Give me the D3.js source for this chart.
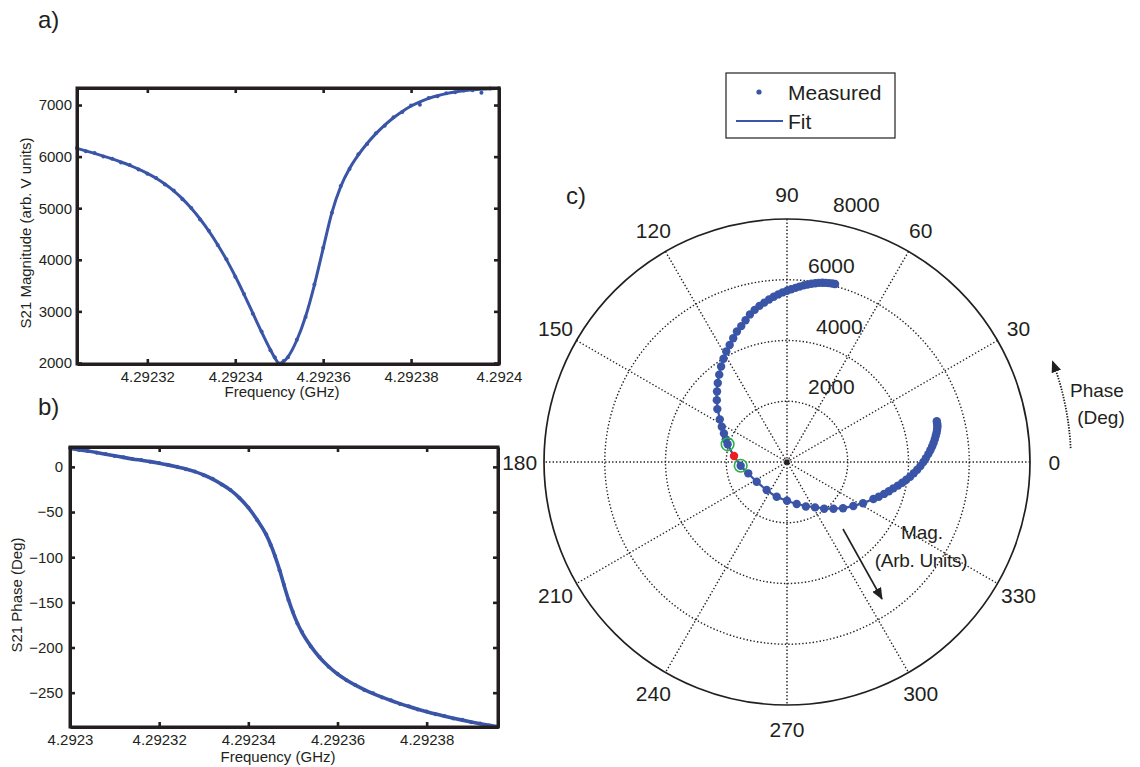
<!DOCTYPE html>
<html>
<head>
<meta charset="utf-8">
<script src="https://cdn.jsdelivr.net/npm/d3@7"></script>
<style>
  html, body { margin: 0; padding: 0; background: #fff; }
  svg { display: block; font-family: "Liberation Sans", Arial, sans-serif; }
  text { fill: #231f20; }
</style>
</head>
<body>
<svg id="chart" width="1140" height="767"></svg>
<script>
// ---------------- DATA ----------------
// Panel a: S21 magnitude vs frequency (GHz)
const freqA = [4.292304,4.292306,4.292308,4.292310,4.292312,4.292314,4.292316,4.292318,4.292320,4.292322,
  4.292324,4.292326,4.292328,4.292330,4.292332,4.292334,4.292336,4.292338,4.292340,4.292342,
  4.292344,4.292346,4.292348,4.292349,4.292350,4.292351,4.292352,4.292354,4.292356,4.292358,
  4.292360,4.292362,4.292364,4.292366,4.292368,4.292370,4.292372,4.292374,4.292376,4.292378,
  4.292380,4.292382,4.292384,4.292386,4.292388,4.292390,4.292392,4.292394,4.292396,4.292398,4.292400];
const fitA = [6160,6112,6062,6010,5955,5895,5830,5757,5675,5580,
  5468,5336,5180,4998,4790,4555,4293,4003,3680,3330,
  2965,2600,2255,2100,1995,2030,2120,2440,2900,3510,
  4220,4920,5420,5770,6035,6255,6445,6610,6753,6875,
  6980,7062,7128,7180,7221,7252,7276,7294,7307,7316,7322];
const measA = [6165,6105,6068,6003,5960,5888,5836,5750,5668,5586,
  5460,5343,5172,5005,4782,4562,4285,4012,3672,3338,
  2955,2610,2245,2110,1985,2040,2112,2452,2890,3522,
  4235,4910,5432,5760,6045,6245,6455,6598,6765,6866,
  6990,7005,7138,7172,7230,7246,7282,7288,7240,7322,7326];
const xTicksA = [4.29232,4.29234,4.29236,4.29238,4.2924];
const yTicksA = [2000,3000,4000,5000,6000,7000];

// Panel b: S21 phase vs frequency (GHz)
const freqB = [4.292300,4.292302,4.292304,4.292306,4.292308,4.292310,4.292312,4.292314,4.292316,4.292318,
  4.292320,4.292322,4.292324,4.292326,4.292328,4.292330,4.292332,4.292334,4.292336,4.292338,
  4.292340,4.292342,4.292344,4.292345,4.292346,4.292347,4.292348,4.292349,4.292350,4.292351,
  4.292352,4.292354,4.292356,4.292358,4.292360,4.292362,4.292364,4.292366,4.292368,4.292370,
  4.292372,4.292374,4.292376,4.292378,4.292380,4.292382,4.292384,4.292386,4.292388,4.292390,
  4.292392,4.292394,4.292396];
const fitB = [20.5,19.0,17.5,15.8,14.0,12.3,10.5,8.8,7.3,5.8,
  4.1,2.2,0.0,-2.3,-5.3,-9.0,-13.5,-19.2,-25.8,-34.3,
  -45.2,-58.8,-75,-86,-99,-114,-131,-147,-161,-173,
  -183,-198.5,-211,-221,-229.3,-236,-241.7,-246.6,-251,-255,
  -258.7,-262.1,-265.3,-268.3,-271.1,-273.7,-276.1,-278.3,-280.4,-282.4,
  -284.3,-286.1,-287.8];
const measB = [20.8,18.7,17.6,15.5,14.2,12.0,10.7,8.6,7.5,5.6,
  4.3,2.0,0.2,-2.6,-5.0,-9.3,-13.2,-19.5,-25.5,-34.6,
  -44.9,-59.1,-74.6,-86.4,-98.6,-114.5,-130.6,-147.4,-160.6,-173.4,
  -182.6,-198.9,-210.7,-221.3,-229.0,-236.3,-241.4,-246.9,-250.7,-255.3,
  -258.4,-262.4,-265.0,-268.6,-270.8,-274.0,-275.8,-278.6,-280.1,-282.7,
  -284.0,-286.4,-287.6];
const xTicksB = [4.2923,4.29232,4.29234,4.29236,4.29238];
const yTicksB = [0,-50,-100,-150,-200,-250];

// Panel c: polar (phase in degrees, magnitude in arb. units)
const polarPhase = [15.2,14.5,13.7,12.9,12.0,11.0,9.9,8.7,7.4,6.1,4.7,3.2,1.6,0.0,
  -1.7,-3.4,-5.1,-6.8,-8.5,-10.2,-12.0,-13.9,-16.0,-18.2,-20.7,-23.2,-28.5,-33.6,-39.5,
  -45.2,-51.5,-58.3,-67,-77,-90,-106.5,-126,-147,-163.7,-175.4,-196.6,
  -200.4,-204.4,-208.4,-212.4,-217.2,-221.4,-225.2,-228.8,-232.2,-235.4,-238.4,-241.2,
  -243.9,-246.5,-249,-251.4,-253.7,-255.9,-258,-260,-261.9,-263.7,-265.4,-267,-268.5,
  -270,-271.4,-272.8,-274.1,-275.4,-276.6,-277.8,-279,-280.1,-281.2,-282.2,-283.2,-284.2,-285.1];
const polarMag = [5110,5105,5095,5078,5050,5015,4970,4920,4865,4805,4735,4660,4575,4490,
  4395,4295,4190,4082,3970,3855,3735,3608,3490,3365,3230,3095,2850,2622,2390,
  2170,1965,1756,1590,1420,1275,1193,1140,1190,1330,1530,2040,
  2150,2280,2440,2620,2880,3080,3270,3460,3640,3820,3990,4150,
  4290,4440,4600,4720,4860,5010,5120,5220,5300,5380,5460,5525,5585,
  5640,5690,5740,5790,5840,5885,5925,5960,5990,6014,6034,6050,6062,6070];
const polarFitPhase = [15.2,12.0,7.4,1.6,-5.1,-13.9,-23.2,-33.6,-45.2,-58.3,-77,-90,-106.5,-126,
  -147,-163.7,-175.4,-186.5,-196.6,-204.4,-212.4,-221.4,-230,-238.4,-246.5,-253.7,-260,
  -265.4,-270,-274.1,-277.8,-281.2,-285.1];
const polarFitMag = [5110,5050,4865,4575,4190,3608,3095,2622,2170,1756,1420,1275,1193,1140,
  1190,1330,1530,1755,2040,2280,2620,3080,3530,3990,4440,4860,5220,
  5460,5640,5790,5925,6014,6070];
const markPhase = [-196.6,-175.4];   // green-circled points
const markMag = [2040,1530];
const resPhase = [-186.5];           // red point
const resMag = [1755];
const ringTicks = [2000,4000,6000];
const ringMax = 8000;
const angleTicks = [0,30,60,90,120,150,180,210,240,270,300,330];

// ---------------- DRAW ----------------
const blue = "#3a55a7";
const svg = d3.select("#chart");
svg.append("rect").attr("width",1140).attr("height",767).attr("fill","#fff");
const fmtF = d => String(+d.toFixed(5));

function framePanel(x, y, fmtY, xTicks, yTicks, box, yPad) {
  const [x0,y0,x1,y1] = box;
  const g = svg.append("g");
  const axB = d3.axisBottom(x).tickValues(xTicks).tickFormat(fmtF).tickSizeInner(-5).tickSizeOuter(0).tickPadding(7);
  const axT = d3.axisTop(x).tickValues(xTicks).tickFormat("").tickSizeInner(-5).tickSizeOuter(0);
  const axL = d3.axisLeft(y).tickValues(yTicks).tickFormat(fmtY).tickSizeInner(-5).tickSizeOuter(0).tickPadding(yPad);
  const axR = d3.axisRight(y).tickValues(yTicks).tickFormat("").tickSizeInner(-5).tickSizeOuter(0);
  const parts = [
    g.append("g").attr("transform",`translate(0,${y1})`).call(axB),
    g.append("g").attr("transform",`translate(0,${y0})`).call(axT),
    g.append("g").attr("transform",`translate(${x0},0)`).call(axL),
    g.append("g").attr("transform",`translate(${x1},0)`).call(axR)
  ];
  parts.forEach(p => {
    p.select(".domain").attr("stroke","#231f20").attr("stroke-width",3);
    p.selectAll(".tick line").attr("stroke","#231f20").attr("stroke-width",2.6);
    p.selectAll(".tick text").attr("font-size",15).attr("fill","#231f20")
      .attr("font-family",'"Liberation Sans", Arial, sans-serif');
  });
  g.append("rect").attr("x",x0).attr("y",y0).attr("width",x1-x0).attr("height",y1-y0)
    .attr("fill","none").attr("stroke","#231f20").attr("stroke-width",3);
  return g;
}

// ----- Panel a -----
const boxA = [77,88,499,364];
const xA = d3.scaleLinear().domain([4.292304,4.2924]).range([boxA[0],boxA[2]]);
const yA = d3.scaleLinear().domain([1980,7330]).range([boxA[3],boxA[1]]);
const dataA = freqA.map((f,i)=>({f, fit:fitA[i], m:measA[i]}));
svg.append("path").datum(dataA)
  .attr("d", d3.line().x(d=>xA(d.f)).y(d=>yA(d.fit)).curve(d3.curveMonotoneX))
  .attr("fill","none").attr("stroke",blue).attr("stroke-width",3);
svg.append("g").selectAll("circle").data(dataA).join("circle")
  .attr("cx",d=>xA(d.f)).attr("cy",d=>yA(d.m)).attr("r",2).attr("fill",blue);
framePanel(xA, yA, d3.format("d"), xTicksA, yTicksA, boxA, 5);
svg.append("text").attr("x",282).attr("y",397).attr("text-anchor","middle").attr("font-size",15).text("Frequency (GHz)");
svg.append("text").attr("transform","translate(31,233) rotate(-90)").attr("text-anchor","middle").attr("font-size",15).text("S21 Magnitude (arb. V units)");
svg.append("text").attr("x",38).attr("y",28).attr("font-size",24).text("a)");

// ----- Panel b -----
const boxB = [70,447,498,727];
const xB = d3.scaleLinear().domain([4.2923,4.292396]).range([boxB[0],boxB[2]]);
const yB = d3.scaleLinear().domain([-288,22]).range([boxB[3],boxB[1]]);
const dataB = freqB.map((f,i)=>({f, fit:fitB[i], m:measB[i]}));
svg.append("path").datum(dataB)
  .attr("d", d3.line().x(d=>xB(d.f)).y(d=>yB(d.fit)).curve(d3.curveMonotoneX))
  .attr("fill","none").attr("stroke",blue).attr("stroke-width",3.6);
svg.append("g").selectAll("circle").data(dataB).join("circle")
  .attr("cx",d=>xB(d.f)).attr("cy",d=>yB(d.m)).attr("r",2).attr("fill",blue);
framePanel(xB, yB, d3.format("d"), xTicksB, yTicksB, boxB, 7);
svg.append("text").attr("x",278).attr("y",762).attr("text-anchor","middle").attr("font-size",15).text("Frequency (GHz)");
svg.append("text").attr("transform","translate(22,595) rotate(-90)").attr("text-anchor","middle").attr("font-size",15).text("S21 Phase (Deg)");
svg.append("text").attr("x",38).attr("y",415).attr("font-size",24).text("b)");

// ----- Panel c (polar) -----
const cx = 787, cy = 462, R = 243;
const rS = d3.scaleLinear().domain([0,ringMax]).range([0,R]);
const rad = d => d*Math.PI/180;
const toXY = (deg,m) => [cx + rS(m)*Math.cos(rad(deg)), cy - rS(m)*Math.sin(rad(deg))];
const gp = svg.append("g");
const dotted = {stroke:"#231f20", "stroke-width":1.4, "stroke-dasharray":"1.4,2.1", fill:"none"};
function applyAttrs(sel, o){ Object.entries(o).forEach(([k,v])=>sel.attr(k,v)); return sel; }
// spokes
angleTicks.filter(a=>a<180).forEach(a=>{
  const p1 = toXY(a, ringMax), p2 = toXY(a+180, ringMax);
  applyAttrs(gp.append("line").attr("x1",p1[0]).attr("y1",p1[1]).attr("x2",p2[0]).attr("y2",p2[1]), dotted);
});
// rings
ringTicks.forEach(v=>{
  applyAttrs(gp.append("circle").attr("cx",cx).attr("cy",cy).attr("r",rS(v)), dotted);
});
gp.append("circle").attr("cx",cx).attr("cy",cy).attr("r",rS(ringMax))
  .attr("fill","none").attr("stroke","#231f20").attr("stroke-width",1.7);
gp.append("rect").attr("x",cx-2.5).attr("y",cy-2.5).attr("width",5).attr("height",5).attr("fill","#231f20");
// angle labels
angleTicks.forEach(a=>{
  const p = toXY(a, ringMax*1.1);
  gp.append("text").attr("x",p[0]).attr("y",p[1]).attr("text-anchor","middle")
    .attr("dominant-baseline","central").attr("font-size",21).text(a);
});
// ring labels
const ringLabelDx = [21,29,21,46];
ringTicks.concat([ringMax]).forEach((v,i)=>{
  gp.append("text").attr("x",cx+ringLabelDx[i]).attr("y",cy-rS(v)-7).attr("font-size",21).text(v);
});
// fit line
const fitPts = polarFitPhase.map((p,i)=>toXY(p, polarFitMag[i]));
gp.append("path").attr("d", d3.line().curve(d3.curveCatmullRom.alpha(0.5))(fitPts))
  .attr("fill","none").attr("stroke",blue).attr("stroke-width",2.2);
// measured dots
gp.append("g").selectAll("circle").data(polarPhase.map((p,i)=>toXY(p, polarMag[i]))).join("circle")
  .attr("cx",d=>d[0]).attr("cy",d=>d[1]).attr("r",4.2).attr("fill",blue);
// special points
resPhase.forEach((p,i)=>{ const q = toXY(p,resMag[i]);
  gp.append("circle").attr("cx",q[0]).attr("cy",q[1]).attr("r",4.2).attr("fill","#ee1d23"); });
markPhase.forEach((p,i)=>{ const q = toXY(p,markMag[i]);
  gp.append("circle").attr("cx",q[0]).attr("cy",q[1]).attr("r",6.3).attr("fill","none")
    .attr("stroke","#2bb24c").attr("stroke-width",1.6); });
svg.append("text").attr("x",566).attr("y",204).attr("font-size",24).text("c)");

// arrows
const defs = svg.append("defs");
defs.append("marker").attr("id","ah").attr("viewBox","0 0 12 10").attr("refX",11).attr("refY",5)
  .attr("markerWidth",12).attr("markerHeight",10).attr("markerUnits","userSpaceOnUse").attr("orient","auto")
  .append("path").attr("d","M0,0 L12,5 L0,10 Z").attr("fill","#231f20");
svg.append("line").attr("x1",843).attr("y1",529).attr("x2",882).attr("y2",599)
  .attr("stroke","#231f20").attr("stroke-width",1.6).attr("marker-end","url(#ah)");
svg.append("text").attr("x",922).attr("y",539).attr("text-anchor","middle").attr("font-size",19).text("Mag.");
svg.append("text").attr("x",921).attr("y",567).attr("text-anchor","middle").attr("font-size",19).attr("letter-spacing",-0.3).text("(Arb. Units)");
// phase arrow: arc around polar centre
const arcR = 284;
const arcPts = d3.range(2.8, 21.3, 0.5).map(a=>[cx+arcR*Math.cos(rad(a)), cy-arcR*Math.sin(rad(a))]);
svg.append("path").attr("d", d3.line()(arcPts)).attr("fill","none").attr("stroke","#231f20")
  .attr("stroke-width",1.8).attr("stroke-dasharray","1.4,1.4").attr("marker-end","url(#ah)");
svg.append("text").attr("x",1097).attr("y",397).attr("text-anchor","middle").attr("font-size",19).text("Phase");
svg.append("text").attr("x",1101).attr("y",424).attr("text-anchor","middle").attr("font-size",19).text("(Deg)");

// legend
const lg = svg.append("g");
lg.append("rect").attr("x",726).attr("y",73).attr("width",169).attr("height",65)
  .attr("fill","#fff").attr("stroke","#231f20").attr("stroke-width",1.2);
lg.append("circle").attr("cx",759).attr("cy",92).attr("r",2.6).attr("fill",blue);
lg.append("line").attr("x1",736).attr("x2",783).attr("y1",121).attr("y2",121).attr("stroke",blue).attr("stroke-width",2);
lg.append("text").attr("x",788).attr("y",92).attr("dominant-baseline","central").attr("font-size",21).text("Measured");
lg.append("text").attr("x",788).attr("y",121).attr("dominant-baseline","central").attr("font-size",21).text("Fit");
</script>
</body>
</html>
